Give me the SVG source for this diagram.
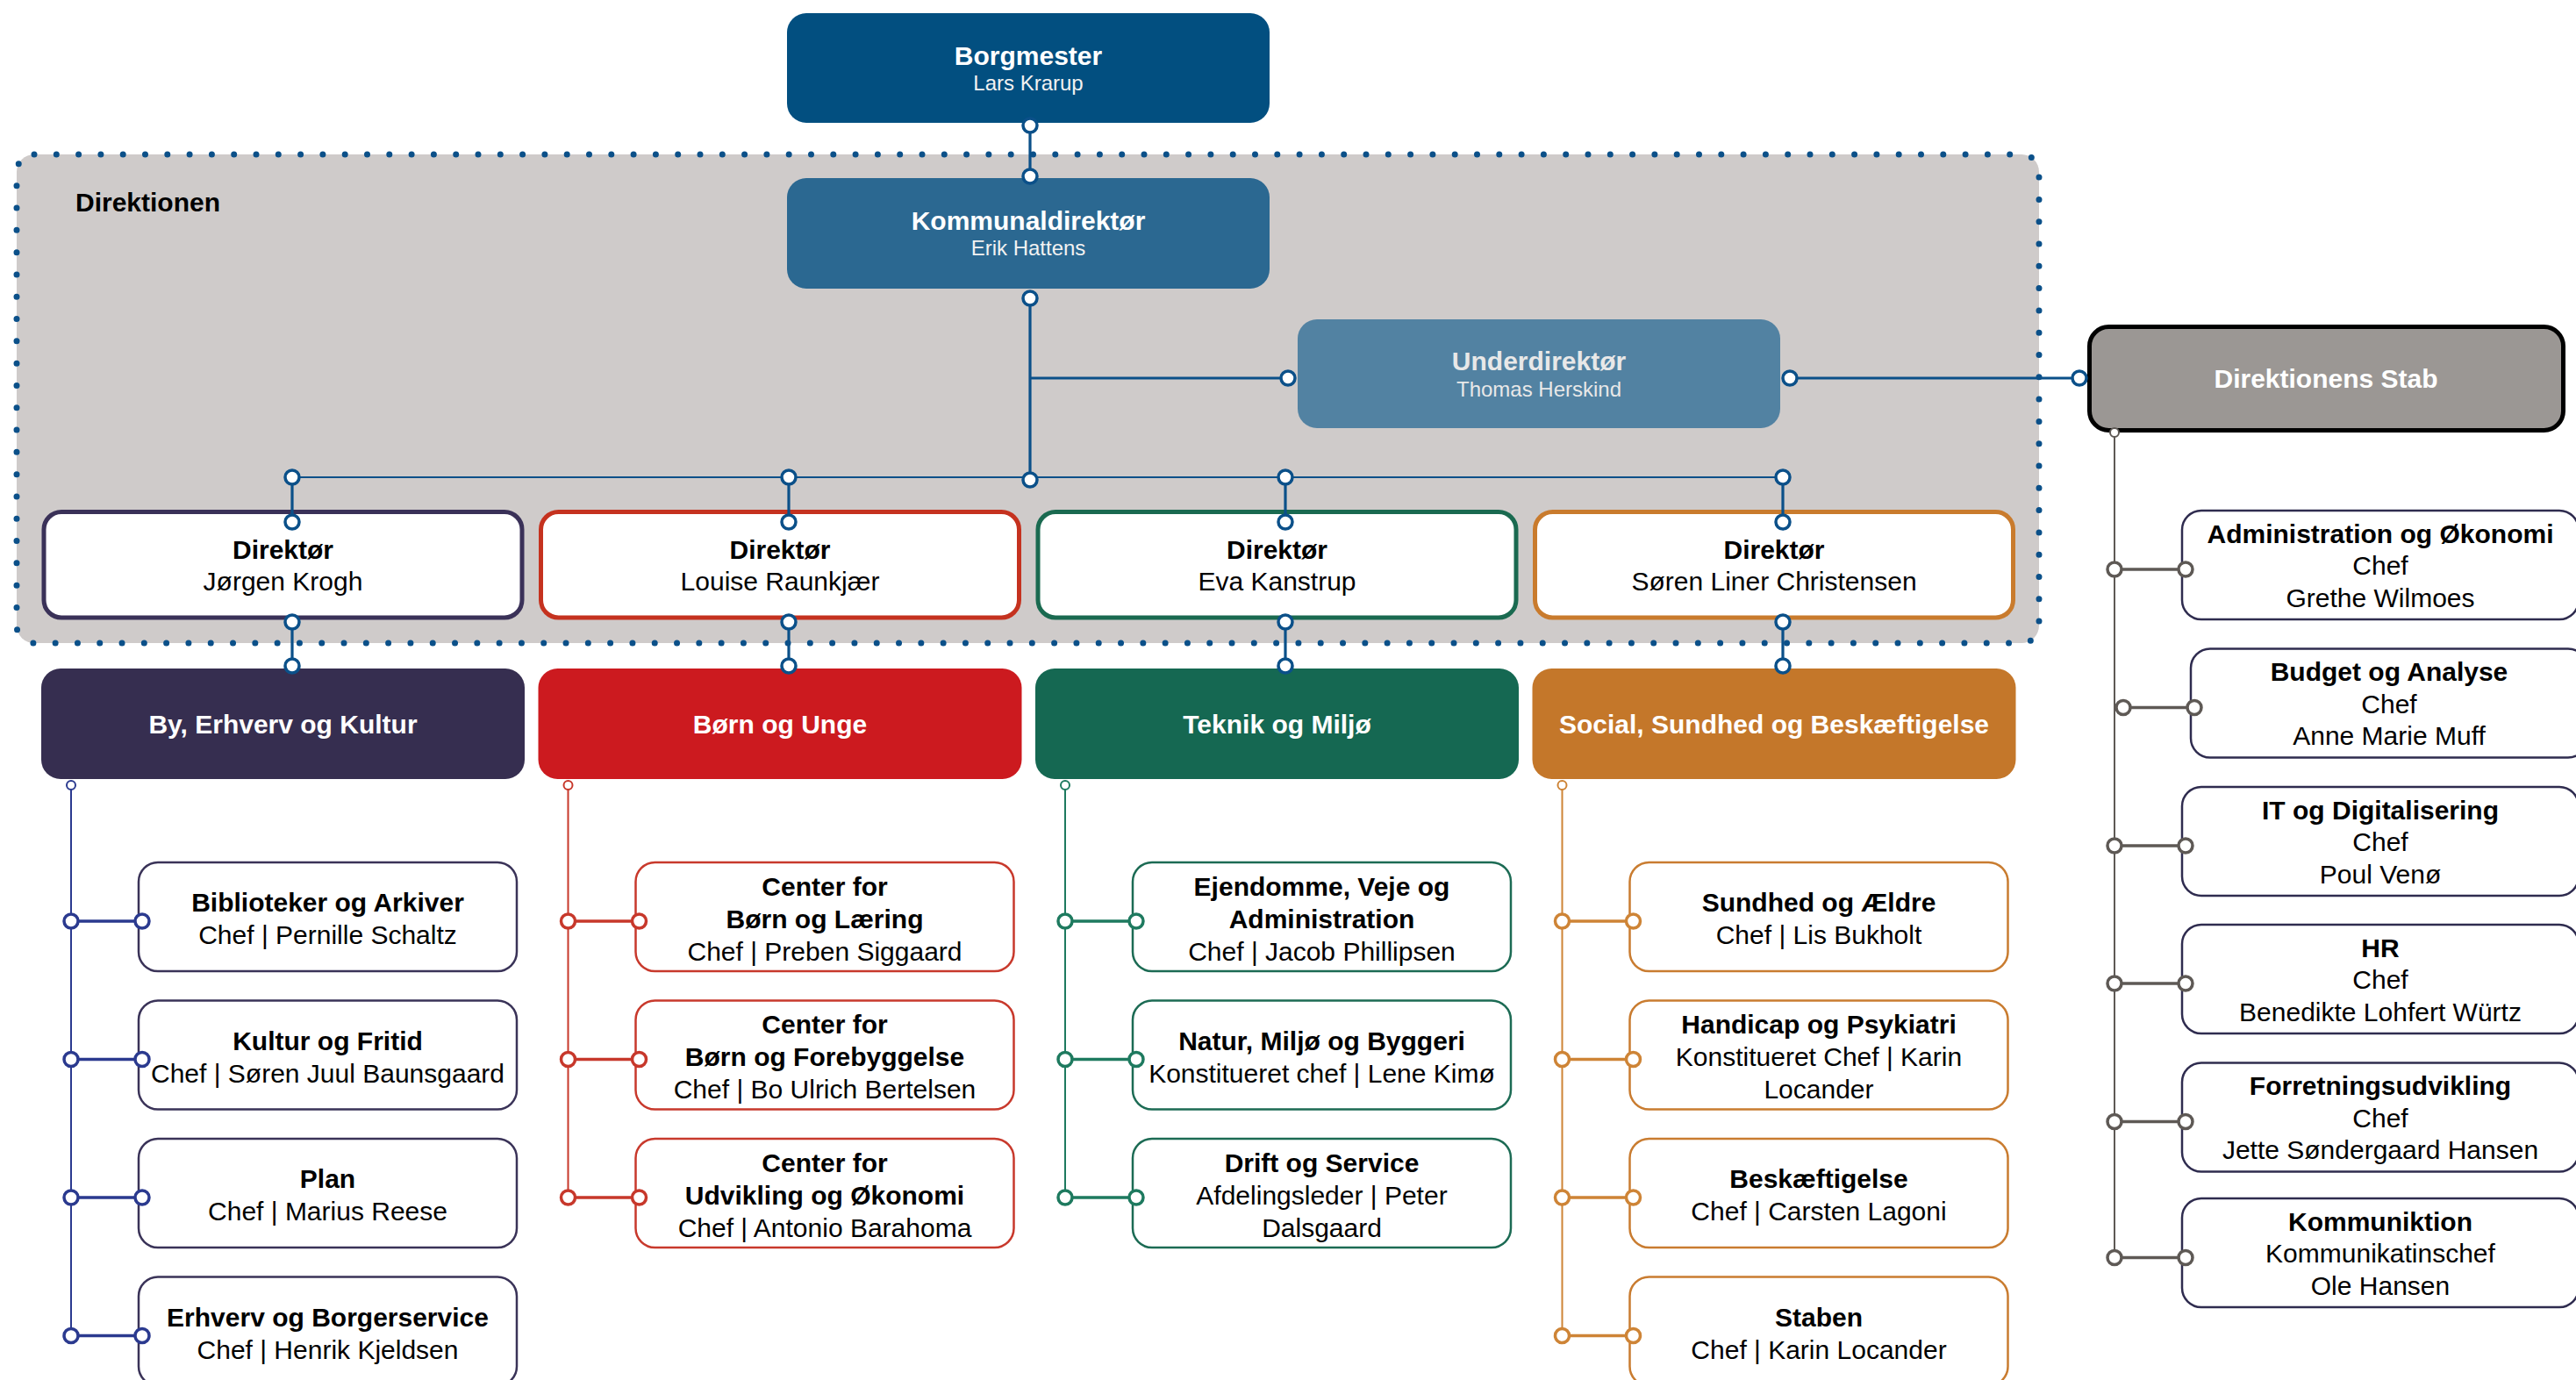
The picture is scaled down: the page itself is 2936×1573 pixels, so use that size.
<svg xmlns="http://www.w3.org/2000/svg" width="2936" height="1573" viewBox="0 0 2936 1573">
<style>
text{font-family:"Liberation Sans",Arial,Helvetica,sans-serif;font-size:30px;text-anchor:middle}
.b{font-weight:bold}
.w{fill:#ffffff}
.sub{font-size:24px;fill:#f2f2f2}
.k{fill:#000000}
.child{fill:#ffffff;stroke-width:2.5}
.dot{fill:#ffffff;stroke-width:3.5}
.sdot{fill:#ffffff;stroke-width:2}
.blue{stroke:#0B5089;fill:none}
.c1{stroke:#2B3A8F}
.c2{stroke:#C7382B}
.c3{stroke:#1E7A5F}
.c4{stroke:#CE8436}
.c5{stroke:#5E5955}
.vl{stroke-width:2;fill:none}
.hl{stroke-width:3.5;fill:none}
</style>
<rect width="2936" height="1573" fill="#ffffff"/>

<g id="direktionen">
<rect x="19" y="176" width="2305" height="557" rx="20" fill="#CFCBCA" stroke="#0B5089" stroke-width="7" stroke-dasharray="0 25.3" stroke-linecap="round"/>
<text x="86" y="241" class="b k" style="text-anchor:start">Direktionen</text>
</g>

<g id="borgmester">
<rect x="897" y="15" width="550" height="125" rx="22" fill="#024F80"/>
<text x="1172" y="74" class="b w">Borgmester</text>
<text x="1172" y="103" class="sub">Lars Krarup</text>
</g>
<g id="kommunaldirektor">
<rect x="897" y="203" width="550" height="126" rx="22" fill="#2B6891"/>
<text x="1172" y="262" class="b w">Kommunaldirektør</text>
<text x="1172" y="291" class="sub">Erik Hattens</text>
</g>
<g id="underdirektor">
<rect x="1479" y="364" width="550" height="124" rx="22" fill="#5282A2"/>
<text x="1754" y="421.5" class="b" fill="#E8E8E8">Underdirektør</text>
<text x="1754" y="451.5" class="sub" fill="#E8E8E8" style="fill:#E8E8E8">Thomas Herskind</text>
</g>
<g id="direktionens-stab">
<rect x="2381.5" y="372.5" width="540" height="118" rx="22" fill="#9B9794" stroke="#000000" stroke-width="5"/>
<text x="2651" y="442" class="b w">Direktionens Stab</text>
</g>

<g id="direktor-1">
<rect x="50" y="583.5" width="545" height="120.5" rx="20" fill="#ffffff" stroke="#3A3158" stroke-width="5"/>
<text x="322.5" y="636.5" class="b k">Direktør</text>
<text x="322.5" y="672.5" class="k">Jørgen Krogh</text>
</g>
<g id="direktor-2">
<rect x="616.5" y="583.5" width="545" height="120.5" rx="20" fill="#ffffff" stroke="#C5321F" stroke-width="5"/>
<text x="889" y="636.5" class="b k">Direktør</text>
<text x="889" y="672.5" class="k">Louise Raunkjær</text>
</g>
<g id="direktor-3">
<rect x="1183" y="583.5" width="545" height="120.5" rx="20" fill="#ffffff" stroke="#1A6A50" stroke-width="5"/>
<text x="1455.5" y="636.5" class="b k">Direktør</text>
<text x="1455.5" y="672.5" class="k">Eva Kanstrup</text>
</g>
<g id="direktor-4">
<rect x="1749.5" y="583.5" width="545" height="120.5" rx="20" fill="#ffffff" stroke="#C97B2D" stroke-width="5"/>
<text x="2022" y="636.5" class="b k">Direktør</text>
<text x="2022" y="672.5" class="k">Søren Liner Christensen</text>
</g>

<g id="dept-by">
<rect x="47" y="762" width="551" height="126" rx="22" fill="#362E50"/>
<text x="322.5" y="836" class="b w">By, Erhverv og Kultur</text>
</g>
<g id="dept-born">
<rect x="613.5" y="762" width="551" height="126" rx="22" fill="#CC1A1F"/>
<text x="889" y="836" class="b w">Børn og Unge</text>
</g>
<g id="dept-teknik">
<rect x="1180" y="762" width="551" height="126" rx="22" fill="#156852"/>
<text x="1455.5" y="836" class="b w">Teknik og Miljø</text>
</g>
<g id="dept-social">
<rect x="1746.5" y="762" width="551" height="126" rx="22" fill="#C4772A"/>
<text x="2022" y="836" class="b w">Social, Sundhed og Beskæftigelse</text>
</g>

<!-- column 1 children -->
<g id="biblioteker">
<rect x="158" y="983" width="431" height="124" rx="22" class="child" stroke="#3A3358"/>
<text x="373.5" y="1039" class="b k">Biblioteker og Arkiver</text>
<text x="373.5" y="1076" class="k">Chef | Pernille Schaltz</text>
</g>
<g id="kultur">
<rect x="158" y="1140.5" width="431" height="124" rx="22" class="child" stroke="#3A3358"/>
<text x="373.5" y="1196.5" class="b k">Kultur og Fritid</text>
<text x="373.5" y="1233.5" class="k">Chef | Søren Juul Baunsgaard</text>
</g>
<g id="plan">
<rect x="158" y="1298" width="431" height="124" rx="22" class="child" stroke="#3A3358"/>
<text x="373.5" y="1354" class="b k">Plan</text>
<text x="373.5" y="1391" class="k">Chef | Marius Reese</text>
</g>
<g id="erhverv">
<rect x="158" y="1455.5" width="431" height="124" rx="22" class="child" stroke="#3A3358"/>
<text x="373.5" y="1511.5" class="b k">Erhverv og Borgerservice</text>
<text x="373.5" y="1548.5" class="k">Chef | Henrik Kjeldsen</text>
</g>

<!-- column 2 children -->
<g id="center-laering">
<rect x="724.5" y="983" width="431" height="124" rx="22" class="child" stroke="#C8392C"/>
<text x="940" y="1020.5" class="b k">Center for</text>
<text x="940" y="1057.5" class="b k">Børn og Læring</text>
<text x="940" y="1094.5" class="k">Chef | Preben Siggaard</text>
</g>
<g id="center-forebyggelse">
<rect x="724.5" y="1140.5" width="431" height="124" rx="22" class="child" stroke="#C8392C"/>
<text x="940" y="1178" class="b k">Center for</text>
<text x="940" y="1215" class="b k">Børn og Forebyggelse</text>
<text x="940" y="1252" class="k">Chef | Bo Ulrich Bertelsen</text>
</g>
<g id="center-udvikling">
<rect x="724.5" y="1298" width="431" height="124" rx="22" class="child" stroke="#C8392C"/>
<text x="940" y="1335.5" class="b k">Center for</text>
<text x="940" y="1372.5" class="b k">Udvikling og Økonomi</text>
<text x="940" y="1409.5" class="k">Chef | Antonio Barahoma</text>
</g>

<!-- column 3 children -->
<g id="ejendomme">
<rect x="1291" y="983" width="431" height="124" rx="22" class="child" stroke="#1C6B54"/>
<text x="1506.5" y="1020.5" class="b k">Ejendomme, Veje og</text>
<text x="1506.5" y="1057.5" class="b k">Administration</text>
<text x="1506.5" y="1094.5" class="k">Chef | Jacob Phillipsen</text>
</g>
<g id="natur">
<rect x="1291" y="1140.5" width="431" height="124" rx="22" class="child" stroke="#1C6B54"/>
<text x="1506.5" y="1196.5" class="b k">Natur, Miljø og Byggeri</text>
<text x="1506.5" y="1233.5" class="k">Konstitueret chef | Lene Kimø</text>
</g>
<g id="drift">
<rect x="1291" y="1298" width="431" height="124" rx="22" class="child" stroke="#1C6B54"/>
<text x="1506.5" y="1335.5" class="b k">Drift og Service</text>
<text x="1506.5" y="1372.5" class="k">Afdelingsleder | Peter</text>
<text x="1506.5" y="1409.5" class="k">Dalsgaard</text>
</g>

<!-- column 4 children -->
<g id="sundhed">
<rect x="1857.5" y="983" width="431" height="124" rx="22" class="child" stroke="#C97C30"/>
<text x="2073" y="1039" class="b k">Sundhed og Ældre</text>
<text x="2073" y="1076" class="k">Chef | Lis Bukholt</text>
</g>
<g id="handicap">
<rect x="1857.5" y="1140.5" width="431" height="124" rx="22" class="child" stroke="#C97C30"/>
<text x="2073" y="1178" class="b k">Handicap og Psykiatri</text>
<text x="2073" y="1215" class="k">Konstitueret Chef | Karin</text>
<text x="2073" y="1252" class="k">Locander</text>
</g>
<g id="beskaeftigelse">
<rect x="1857.5" y="1298" width="431" height="124" rx="22" class="child" stroke="#C97C30"/>
<text x="2073" y="1354" class="b k">Beskæftigelse</text>
<text x="2073" y="1391" class="k">Chef | Carsten Lagoni</text>
</g>
<g id="staben">
<rect x="1857.5" y="1455.5" width="431" height="124" rx="22" class="child" stroke="#C97C30"/>
<text x="2073" y="1511.5" class="b k">Staben</text>
<text x="2073" y="1548.5" class="k">Chef | Karin Locander</text>
</g>

<!-- stab children -->
<g id="administration">
<rect x="2487" y="582" width="452" height="124" rx="22" class="child" stroke="#2F2C4F"/>
<text x="2713" y="618.5" class="b k">Administration og Økonomi</text>
<text x="2713" y="655" class="k">Chef</text>
<text x="2713" y="691.5" class="k">Grethe Wilmoes</text>
</g>
<g id="budget">
<rect x="2497" y="739.5" width="452" height="124" rx="22" class="child" stroke="#2F2C4F"/>
<text x="2723" y="776" class="b k">Budget og Analyse</text>
<text x="2723" y="812.5" class="k">Chef</text>
<text x="2723" y="849" class="k">Anne Marie Muff</text>
</g>
<g id="it">
<rect x="2487" y="897" width="452" height="124" rx="22" class="child" stroke="#2F2C4F"/>
<text x="2713" y="933.5" class="b k">IT og Digitalisering</text>
<text x="2713" y="970" class="k">Chef</text>
<text x="2713" y="1006.5" class="k">Poul Venø</text>
</g>
<g id="hr">
<rect x="2487" y="1054" width="452" height="124" rx="22" class="child" stroke="#2F2C4F"/>
<text x="2713" y="1090.5" class="b k">HR</text>
<text x="2713" y="1127" class="k">Chef</text>
<text x="2713" y="1163.5" class="k">Benedikte Lohfert Würtz</text>
</g>
<g id="forretning">
<rect x="2487" y="1211.5" width="452" height="124" rx="22" class="child" stroke="#2F2C4F"/>
<text x="2713" y="1248" class="b k">Forretningsudvikling</text>
<text x="2713" y="1284.5" class="k">Chef</text>
<text x="2713" y="1321" class="k">Jette Søndergaard Hansen</text>
</g>
<g id="kommunikation">
<rect x="2487" y="1366" width="452" height="124" rx="22" class="child" stroke="#2F2C4F"/>
<text x="2713" y="1402.5" class="b k">Kommuniktion</text>
<text x="2713" y="1439" class="k">Kommunikatinschef</text>
<text x="2713" y="1475.5" class="k">Ole Hansen</text>
</g>

<g id="connectors">
<!-- top blue -->
<g class="blue">
<path d="M1174 143V201M1174 340V547M1174 431H1468M2040 431H2370" stroke-width="3.2"/>
<path d="M333 544H2032" stroke-width="2"/>
<path d="M333 544V595M333 709V759M899 544V595M899 709V759M1465 544V595M1465 709V759M2032 544V595M2032 709V759" stroke-width="3.2"/>
<g class="dot" stroke="#0B5089">
<circle cx="1174" cy="143" r="8"/><circle cx="1174" cy="201" r="8"/>
<circle cx="1174" cy="340" r="8"/><circle cx="1174" cy="547" r="8"/>
<circle cx="1468" cy="431" r="8"/><circle cx="2040" cy="431" r="8"/><circle cx="2370" cy="431" r="8"/>
<circle cx="333" cy="544" r="8"/><circle cx="333" cy="595" r="8"/><circle cx="333" cy="709" r="8"/><circle cx="333" cy="759" r="8"/>
<circle cx="899" cy="544" r="8"/><circle cx="899" cy="595" r="8"/><circle cx="899" cy="709" r="8"/><circle cx="899" cy="759" r="8"/>
<circle cx="1465" cy="544" r="8"/><circle cx="1465" cy="595" r="8"/><circle cx="1465" cy="709" r="8"/><circle cx="1465" cy="759" r="8"/>
<circle cx="2032" cy="544" r="8"/><circle cx="2032" cy="595" r="8"/><circle cx="2032" cy="709" r="8"/><circle cx="2032" cy="759" r="8"/>
</g>
</g>
<!-- column 1 -->
<g class="c1">
<path class="vl" d="M81 900V1522.5"/>
<path class="hl" d="M81 1050H162M81 1207.5H162M81 1365H162M81 1522.5H162"/>
<circle class="sdot" cx="81" cy="895" r="5"/>
<g class="dot"><circle cx="81" cy="1050" r="8"/><circle cx="162" cy="1050" r="8"/><circle cx="81" cy="1207.5" r="8"/><circle cx="162" cy="1207.5" r="8"/><circle cx="81" cy="1365" r="8"/><circle cx="162" cy="1365" r="8"/><circle cx="81" cy="1522.5" r="8"/><circle cx="162" cy="1522.5" r="8"/></g>
</g>
<!-- column 2 -->
<g class="c2">
<path class="vl" d="M647.5 900V1365"/>
<path class="hl" d="M647.5 1050H728.5M647.5 1207.5H728.5M647.5 1365H728.5"/>
<circle class="sdot" cx="647.5" cy="895" r="5"/>
<g class="dot"><circle cx="647.5" cy="1050" r="8"/><circle cx="728.5" cy="1050" r="8"/><circle cx="647.5" cy="1207.5" r="8"/><circle cx="728.5" cy="1207.5" r="8"/><circle cx="647.5" cy="1365" r="8"/><circle cx="728.5" cy="1365" r="8"/></g>
</g>
<!-- column 3 -->
<g class="c3">
<path class="vl" d="M1214 900V1365"/>
<path class="hl" d="M1214 1050H1295M1214 1207.5H1295M1214 1365H1295"/>
<circle class="sdot" cx="1214" cy="895" r="5"/>
<g class="dot"><circle cx="1214" cy="1050" r="8"/><circle cx="1295" cy="1050" r="8"/><circle cx="1214" cy="1207.5" r="8"/><circle cx="1295" cy="1207.5" r="8"/><circle cx="1214" cy="1365" r="8"/><circle cx="1295" cy="1365" r="8"/></g>
</g>
<!-- column 4 -->
<g class="c4">
<path class="vl" d="M1780.5 900V1522.5"/>
<path class="hl" d="M1780.5 1050H1861.5M1780.5 1207.5H1861.5M1780.5 1365H1861.5M1780.5 1522.5H1861.5"/>
<circle class="sdot" cx="1780.5" cy="895" r="5"/>
<g class="dot"><circle cx="1780.5" cy="1050" r="8"/><circle cx="1861.5" cy="1050" r="8"/><circle cx="1780.5" cy="1207.5" r="8"/><circle cx="1861.5" cy="1207.5" r="8"/><circle cx="1780.5" cy="1365" r="8"/><circle cx="1861.5" cy="1365" r="8"/><circle cx="1780.5" cy="1522.5" r="8"/><circle cx="1861.5" cy="1522.5" r="8"/></g>
</g>
<!-- stab column -->
<g class="c5">
<path class="vl" d="M2410 498V1433.5"/>
<path class="hl" d="M2410 649H2491M2420 806.5H2501M2410 964H2491M2410 1121H2491M2410 1278.5H2491M2410 1433.5H2491"/>
<circle class="sdot" cx="2410" cy="493" r="5"/>
<g class="dot"><circle cx="2410" cy="649" r="8"/><circle cx="2491" cy="649" r="8"/><circle cx="2420" cy="806.5" r="8"/><circle cx="2501" cy="806.5" r="8"/><circle cx="2410" cy="964" r="8"/><circle cx="2491" cy="964" r="8"/><circle cx="2410" cy="1121" r="8"/><circle cx="2491" cy="1121" r="8"/><circle cx="2410" cy="1278.5" r="8"/><circle cx="2491" cy="1278.5" r="8"/><circle cx="2410" cy="1433.5" r="8"/><circle cx="2491" cy="1433.5" r="8"/></g>
</g>
</g>
</svg>
